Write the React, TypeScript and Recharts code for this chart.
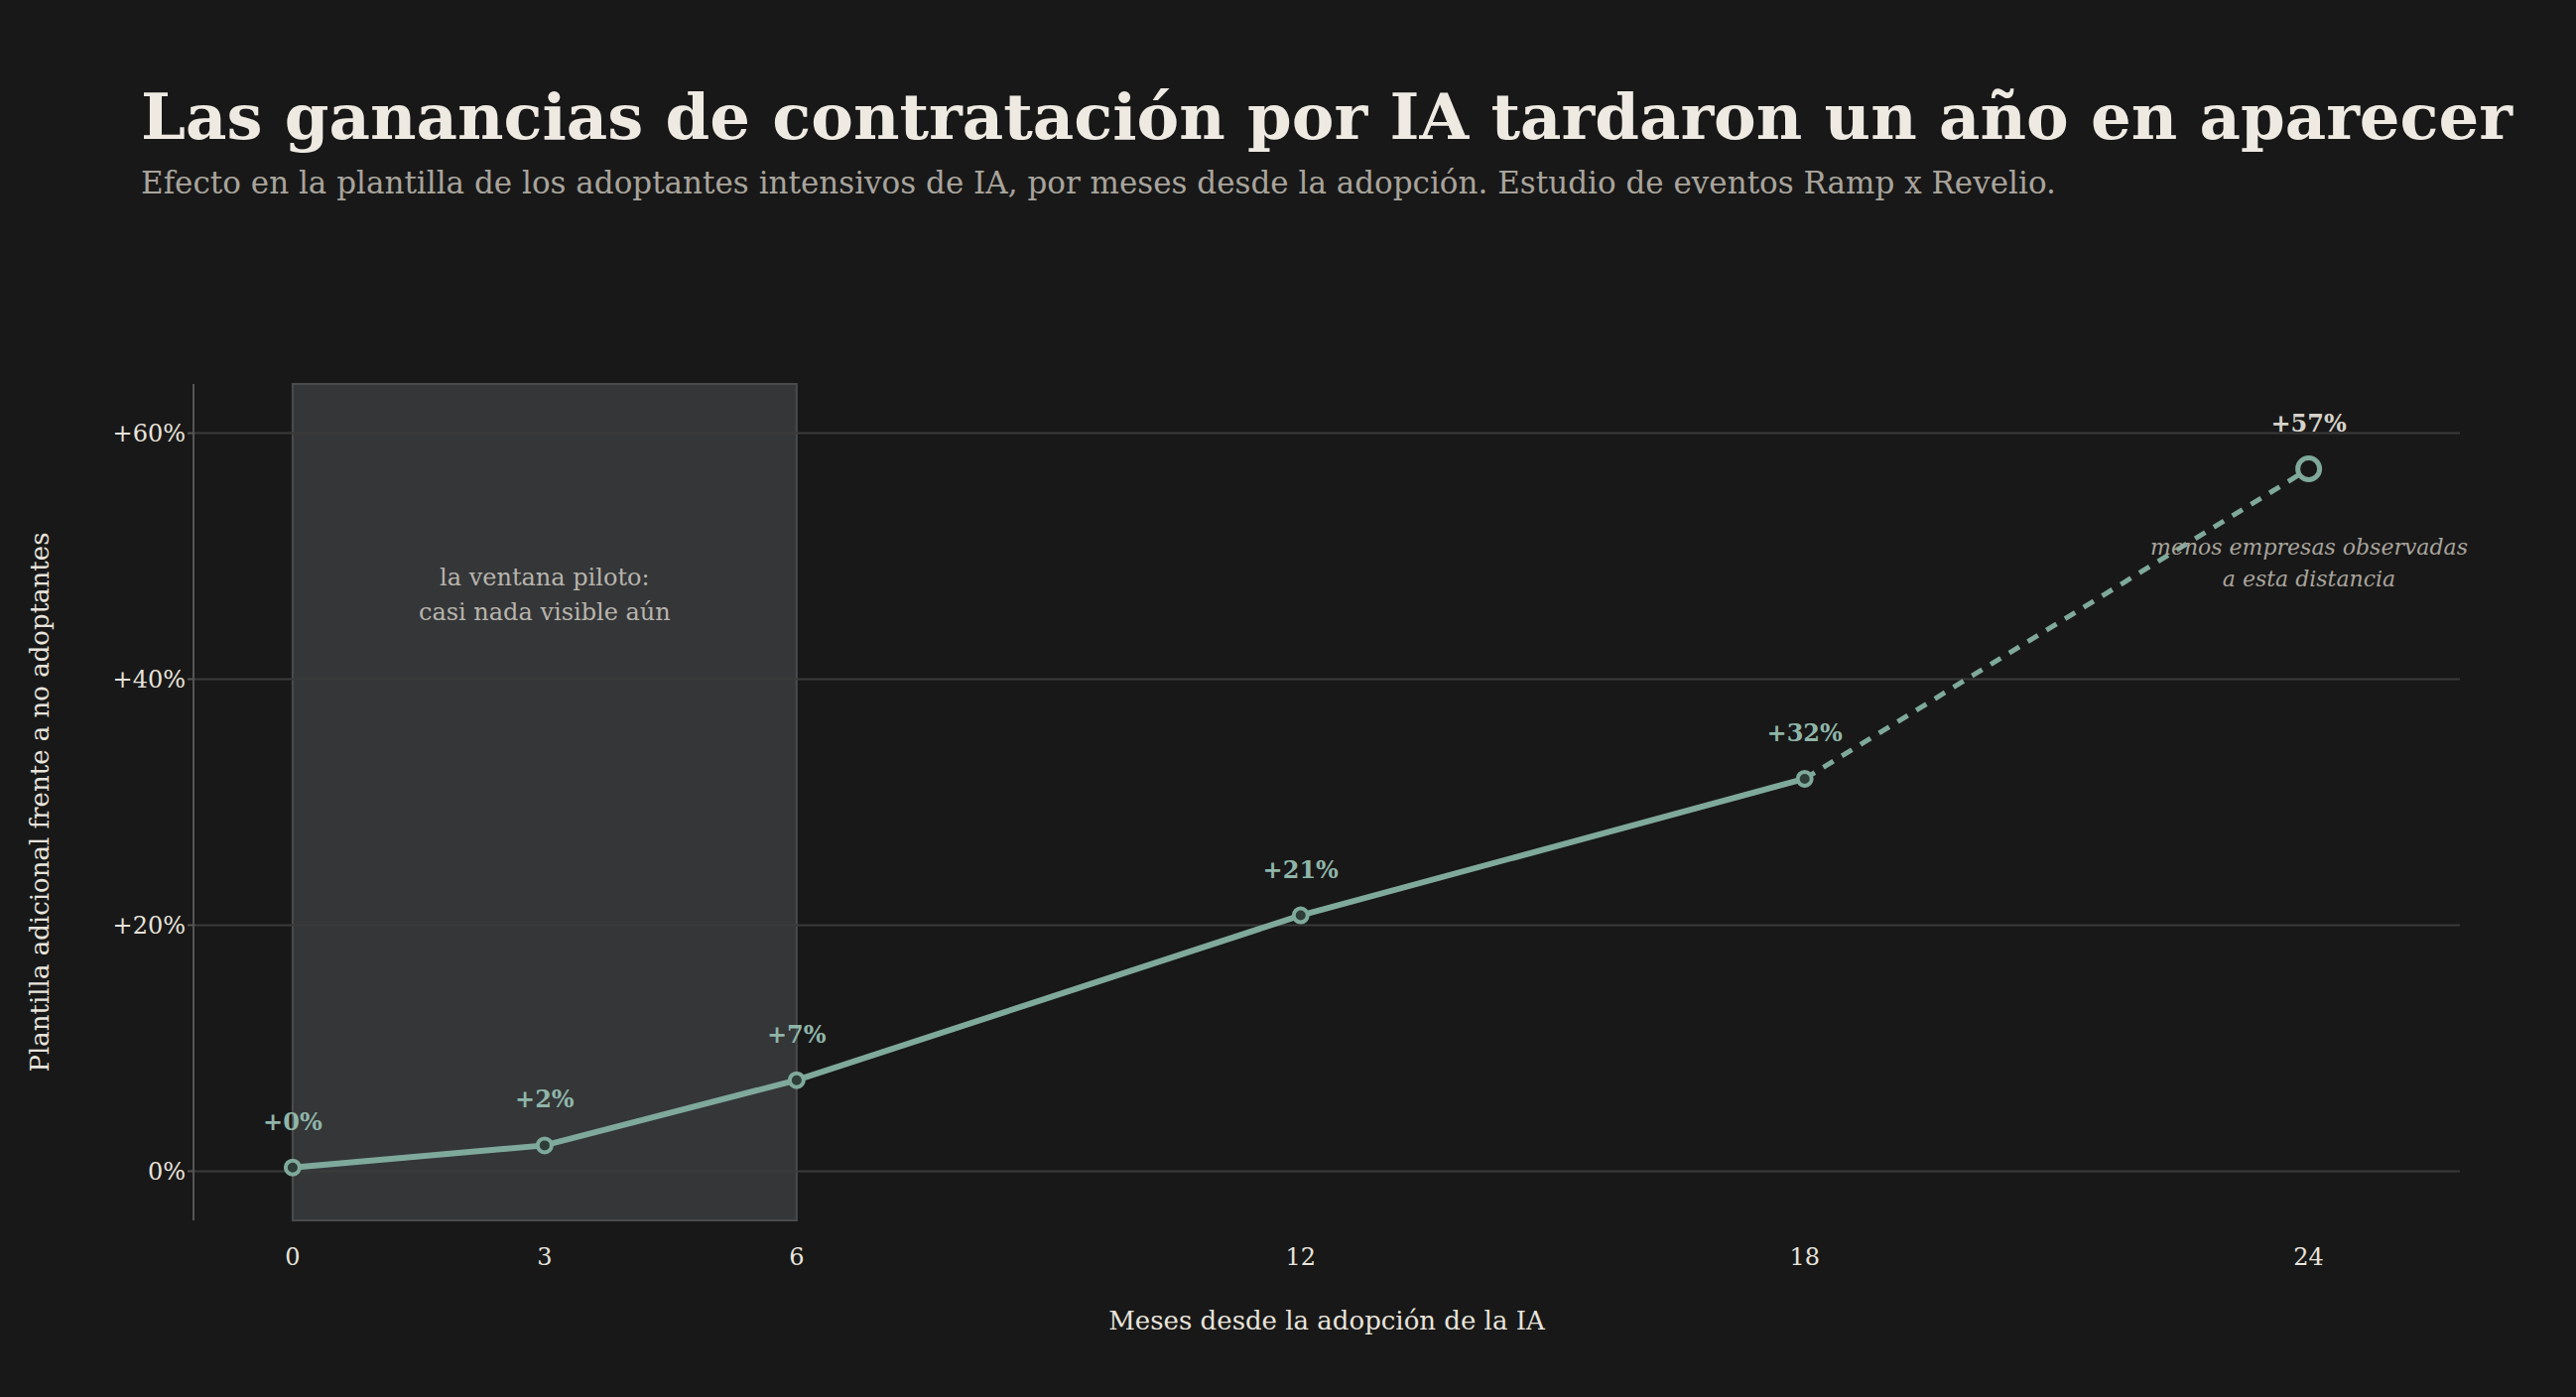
import React from 'react';
import {LineChart, Line, XAxis, YAxis, ReferenceLine, ReferenceArea, LabelList} from 'recharts';

const months = [0, 3, 6, 12, 18, 24];
const effect = [0.3, 2.1, 7.4, 20.8, 31.9, 57.1];
const labels = ['+0%', '+2%', '+7%', '+21%', '+32%', '+57%'];
const yTicks = [0, 20, 40, 60];

const data = months.map((m, i) => ({
  m,
  solid: m <= 18 ? effect[i] : null,
  dashed: m >= 18 ? effect[i] : null,
  lab: labels[i],
}));

const BG = '#181818';
const GREEN = '#7fa99b';
const SERIF = '"DejaVu Serif", "Liberation Serif", serif';

const fmtY = (v: number) => (v === 0 ? '0%' : `+${v}%`);

const DashDot = (p: any) => {
  if (p.payload.m !== 24) return <g key={p.index} />;
  return <circle key={p.index} cx={p.cx} cy={p.cy} r={11} fill={BG} stroke={GREEN} strokeWidth={5} />;
};

const App = () => {
  return (
    <div style={{position: 'absolute', left: 0, top: 0, width: 2596, height: 1408, background: BG, fontFamily: SERIF}}>
      <div style={{position: 'absolute', left: 142, top: 80, color: '#eeeae2', fontSize: 64, fontWeight: 'bold', whiteSpace: 'nowrap'}}>
        Las ganancias de contratación por IA tardaron un año en aparecer
      </div>
      <div style={{position: 'absolute', left: 142, top: 166, color: '#a8a49c', fontSize: 31, whiteSpace: 'nowrap'}}>
        Efecto en la plantilla de los adoptantes intensivos de IA, por meses desde la adopción. Estudio de eventos Ramp x Revelio.
      </div>
      <LineChart width={2596} height={1408} data={data} margin={{top: 387, right: 117, bottom: 118, left: 95}}>
        {yTicks.map(t => (
          <ReferenceLine key={t} y={t} stroke="#3a3a3a" strokeWidth={2} />
        ))}
        <ReferenceArea x1={0} x2={6} y1={-4} y2={64} fill="#3a3c3e" fillOpacity={0.85} stroke="#4a4b4d" strokeWidth={2}
          label={(props: any) => {
            const {viewBox} = props;
            const cx = viewBox.x + viewBox.width / 2;
            return (
              <g>
                <text x={cx} y={590} textAnchor="middle" fill="#b8b4ac" fontSize={24} fontFamily={SERIF}>la ventana piloto:</text>
                <text x={cx} y={625} textAnchor="middle" fill="#b8b4ac" fontSize={24} fontFamily={SERIF}>casi nada visible aún</text>
              </g>
            );
          }} />
        <XAxis dataKey="m" type="number" domain={[-1.18, 25.8]} ticks={months} axisLine={false} tickLine={false}
          height={60} tick={{fill: '#e8e4dc', fontSize: 24, fontFamily: SERIF}} tickMargin={22}
          label={{value: 'Meses desde la adopción de la IA', position: 'insideBottom', offset: -50, fill: '#e8e4dc', fontSize: 26, fontFamily: SERIF}} />
        <YAxis type="number" domain={[-4, 64]} ticks={yTicks} tickFormatter={fmtY} width={100}
          axisLine={{stroke: '#555', strokeWidth: 2}} tickLine={{stroke: '#555', strokeWidth: 2}} tickSize={6}
          tick={{fill: '#e8e4dc', fontSize: 24, fontFamily: SERIF}}
          label={{value: 'Plantilla adicional frente a no adoptantes', angle: -90, position: 'insideLeft', offset: -55, fill: '#e8e4dc', fontSize: 26, fontFamily: SERIF, style: {textAnchor: 'middle'}}} />
        <Line dataKey="dashed" stroke={GREEN} strokeWidth={5} strokeDasharray="12 10" dot={DashDot} activeDot={false} isAnimationActive={false} connectNulls={false}>
          <LabelList dataKey="lab" content={(p: any) => (p.index === 5 ? (
            <text x={p.x} y={p.y - 38} textAnchor="middle" fill="#d6d2ca" fontSize={24} fontWeight="bold" fontFamily={SERIF}>{p.value}</text>
          ) : null)} />
        </Line>
        <Line dataKey="solid" stroke={GREEN} strokeWidth={6} dot={{r: 7, fill: '#2e3d38', stroke: GREEN, strokeWidth: 4}} activeDot={false} isAnimationActive={false}>
          <LabelList dataKey="lab" content={(p: any) => (p.value && p.index < 5 ? (
            <text x={p.x} y={p.y - 38} textAnchor="middle" fill="#8fb5a8" fontSize={24} fontWeight="bold" fontFamily={SERIF}>{p.value}</text>
          ) : null)} />
        </Line>
      </LineChart>
      <div style={{position: 'absolute', left: 2327 - 300, width: 600, top: 536, textAlign: 'center', color: '#a8a49c', fontSize: 22, fontStyle: 'italic', lineHeight: '32px'}}>
        menos empresas observadas<br />a esta distancia
      </div>
    </div>
  );
};

export default App;
